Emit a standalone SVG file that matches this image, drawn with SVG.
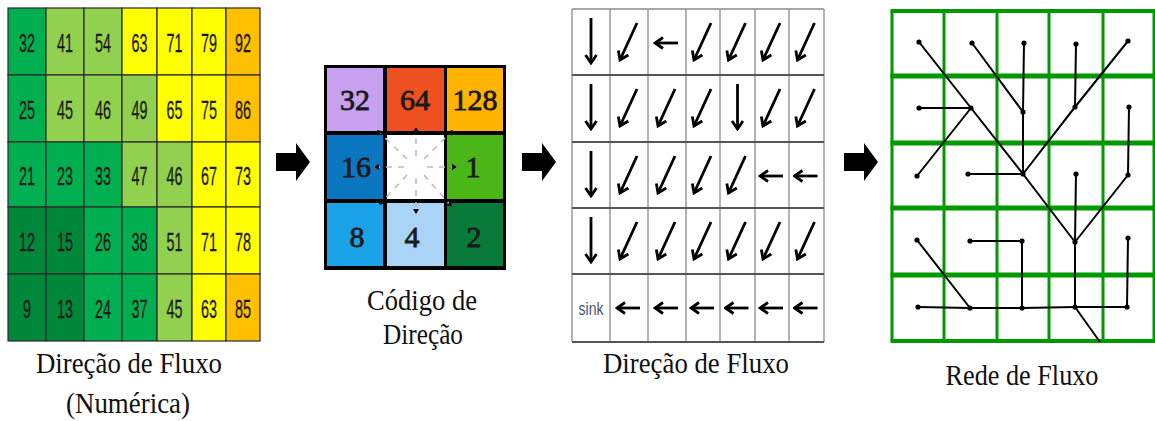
<svg xmlns="http://www.w3.org/2000/svg" width="1155" height="421" viewBox="0 0 1155 421">
<defs>
<style>
.num{font-family:'Liberation Sans',Arial,sans-serif;font-size:26px;fill:#1a1a1a;stroke:#1a1a1a;stroke-width:0.3;text-anchor:middle}
.cell{stroke:#2a2a2a;stroke-width:1.2}
.code{font-family:'Liberation Serif','Times New Roman',Times,serif;font-size:30px;fill:#1a1a1a;stroke:#1a1a1a;stroke-width:0.8;text-anchor:middle}
.dash{stroke:#bdbdbd;stroke-width:1.6;stroke-dasharray:6 6;fill:none;marker-end:url(#tiny)}
.arr{stroke:#000;stroke-width:2.8;fill:none;marker-end:url(#vhead)}
.gv{stroke:#8a8a8a;stroke-width:1.3}
.gh{stroke:#555;stroke-width:2}
.green{stroke:#009900;fill:none}
.net{stroke:#000;stroke-width:2;fill:none;stroke-linejoin:round}
.dot{fill:#000}
.lbl{font-family:'Liberation Serif','Times New Roman',Times,serif;font-size:29px;fill:#111;text-anchor:middle}
</style>
<marker id="vhead" viewBox="-11 -8 13 16" refX="0" refY="0" markerWidth="13" markerHeight="16" markerUnits="userSpaceOnUse" orient="auto">
<path d="M-8,-5.5 L0,0 L-8,5.5" fill="none" stroke="#000" stroke-width="2.8"/>
</marker>
<marker id="tiny" viewBox="-6 -4 7 8" refX="0" refY="0" markerWidth="7" markerHeight="8" markerUnits="userSpaceOnUse" orient="auto">
<path d="M0,0 L-5,-3 L-5,3 z" fill="#000"/>
</marker>
</defs>
<rect width="1155" height="421" fill="#fff"/>

<g id="numeric-grid">
<rect class="cell" x="8" y="8" width="38" height="67" fill="#00b050"/>
<rect class="cell" x="46" y="8" width="38" height="67" fill="#92d050"/>
<rect class="cell" x="84" y="8" width="38" height="67" fill="#92d050"/>
<rect class="cell" x="122" y="8" width="35" height="67" fill="#ffff00"/>
<rect class="cell" x="157" y="8" width="35" height="67" fill="#ffff00"/>
<rect class="cell" x="192" y="8" width="34" height="67" fill="#ffff00"/>
<rect class="cell" x="226" y="8" width="34" height="67" fill="#ffc000"/>
<rect class="cell" x="8" y="75" width="38" height="67" fill="#00b050"/>
<rect class="cell" x="46" y="75" width="38" height="67" fill="#92d050"/>
<rect class="cell" x="84" y="75" width="38" height="67" fill="#92d050"/>
<rect class="cell" x="122" y="75" width="35" height="67" fill="#92d050"/>
<rect class="cell" x="157" y="75" width="35" height="67" fill="#ffff00"/>
<rect class="cell" x="192" y="75" width="34" height="67" fill="#ffff00"/>
<rect class="cell" x="226" y="75" width="34" height="67" fill="#ffc000"/>
<rect class="cell" x="8" y="142" width="38" height="65" fill="#00b050"/>
<rect class="cell" x="46" y="142" width="38" height="65" fill="#00b050"/>
<rect class="cell" x="84" y="142" width="38" height="65" fill="#00b050"/>
<rect class="cell" x="122" y="142" width="35" height="65" fill="#92d050"/>
<rect class="cell" x="157" y="142" width="35" height="65" fill="#92d050"/>
<rect class="cell" x="192" y="142" width="34" height="65" fill="#ffff00"/>
<rect class="cell" x="226" y="142" width="34" height="65" fill="#ffff00"/>
<rect class="cell" x="8" y="207" width="38" height="67" fill="#00883a"/>
<rect class="cell" x="46" y="207" width="38" height="67" fill="#00883a"/>
<rect class="cell" x="84" y="207" width="38" height="67" fill="#00b050"/>
<rect class="cell" x="122" y="207" width="35" height="67" fill="#00b050"/>
<rect class="cell" x="157" y="207" width="35" height="67" fill="#92d050"/>
<rect class="cell" x="192" y="207" width="34" height="67" fill="#ffff00"/>
<rect class="cell" x="226" y="207" width="34" height="67" fill="#ffff00"/>
<rect class="cell" x="8" y="274" width="38" height="67" fill="#00883a"/>
<rect class="cell" x="46" y="274" width="38" height="67" fill="#00883a"/>
<rect class="cell" x="84" y="274" width="38" height="67" fill="#00b050"/>
<rect class="cell" x="122" y="274" width="35" height="67" fill="#00b050"/>
<rect class="cell" x="157" y="274" width="35" height="67" fill="#92d050"/>
<rect class="cell" x="192" y="274" width="34" height="67" fill="#ffff00"/>
<rect class="cell" x="226" y="274" width="34" height="67" fill="#ffc000"/>
<g class="num">
<text x="27" y="52" textLength="16" lengthAdjust="spacingAndGlyphs">32</text>
<text x="65" y="52" textLength="16" lengthAdjust="spacingAndGlyphs">41</text>
<text x="103" y="52" textLength="16" lengthAdjust="spacingAndGlyphs">54</text>
<text x="139.5" y="52" textLength="16" lengthAdjust="spacingAndGlyphs">63</text>
<text x="174.5" y="52" textLength="16" lengthAdjust="spacingAndGlyphs">71</text>
<text x="209" y="52" textLength="16" lengthAdjust="spacingAndGlyphs">79</text>
<text x="243" y="52" textLength="16" lengthAdjust="spacingAndGlyphs">92</text>
<text x="27" y="119" textLength="16" lengthAdjust="spacingAndGlyphs">25</text>
<text x="65" y="119" textLength="16" lengthAdjust="spacingAndGlyphs">45</text>
<text x="103" y="119" textLength="16" lengthAdjust="spacingAndGlyphs">46</text>
<text x="139.5" y="119" textLength="16" lengthAdjust="spacingAndGlyphs">49</text>
<text x="174.5" y="119" textLength="16" lengthAdjust="spacingAndGlyphs">65</text>
<text x="209" y="119" textLength="16" lengthAdjust="spacingAndGlyphs">75</text>
<text x="243" y="119" textLength="16" lengthAdjust="spacingAndGlyphs">86</text>
<text x="27" y="185" textLength="16" lengthAdjust="spacingAndGlyphs">21</text>
<text x="65" y="185" textLength="16" lengthAdjust="spacingAndGlyphs">23</text>
<text x="103" y="185" textLength="16" lengthAdjust="spacingAndGlyphs">33</text>
<text x="139.5" y="185" textLength="16" lengthAdjust="spacingAndGlyphs">47</text>
<text x="174.5" y="185" textLength="16" lengthAdjust="spacingAndGlyphs">46</text>
<text x="209" y="185" textLength="16" lengthAdjust="spacingAndGlyphs">67</text>
<text x="243" y="185" textLength="16" lengthAdjust="spacingAndGlyphs">73</text>
<text x="27" y="251" textLength="16" lengthAdjust="spacingAndGlyphs">12</text>
<text x="65" y="251" textLength="16" lengthAdjust="spacingAndGlyphs">15</text>
<text x="103" y="251" textLength="16" lengthAdjust="spacingAndGlyphs">26</text>
<text x="139.5" y="251" textLength="16" lengthAdjust="spacingAndGlyphs">38</text>
<text x="174.5" y="251" textLength="16" lengthAdjust="spacingAndGlyphs">51</text>
<text x="209" y="251" textLength="16" lengthAdjust="spacingAndGlyphs">71</text>
<text x="243" y="251" textLength="16" lengthAdjust="spacingAndGlyphs">78</text>
<text x="27" y="318" textLength="8" lengthAdjust="spacingAndGlyphs">9</text>
<text x="65" y="318" textLength="16" lengthAdjust="spacingAndGlyphs">13</text>
<text x="103" y="318" textLength="16" lengthAdjust="spacingAndGlyphs">24</text>
<text x="139.5" y="318" textLength="16" lengthAdjust="spacingAndGlyphs">37</text>
<text x="174.5" y="318" textLength="16" lengthAdjust="spacingAndGlyphs">45</text>
<text x="209" y="318" textLength="16" lengthAdjust="spacingAndGlyphs">63</text>
<text x="243" y="318" textLength="16" lengthAdjust="spacingAndGlyphs">85</text>
</g>
<text class="lbl" x="129" y="373" textLength="186" lengthAdjust="spacingAndGlyphs">Direção de Fluxo</text>
<text class="lbl" x="128" y="413" textLength="124" lengthAdjust="spacingAndGlyphs">(Numérica)</text>
</g>

<g id="direction-code">
<rect x="324" y="65" width="182" height="205" fill="#000"/>
<rect x="327" y="68" width="56" height="63" fill="#c8a0f0"/>
<rect x="387" y="68" width="57" height="63" fill="#ef5020"/>
<rect x="447" y="68" width="56" height="63" fill="#ffb300"/>
<rect x="327" y="135" width="56" height="64" fill="#0b77c0"/>
<rect x="387" y="135" width="57" height="64" fill="#ffffff"/>
<rect x="447" y="135" width="56" height="64" fill="#4ab618"/>
<rect x="327" y="203" width="56" height="63" fill="#1aa3e8"/>
<rect x="387" y="203" width="57" height="63" fill="#aad4f6"/>
<rect x="447" y="203" width="56" height="63" fill="#087a3a"/>
<g class="code">
<text x="355" y="110">32</text>
<text x="415" y="110">64</text>
<text x="475" y="110" textLength="45" lengthAdjust="spacingAndGlyphs">128</text>
<text x="356" y="177">16</text>
<text x="473" y="177">1</text>
<text x="357" y="247">8</text>
<text x="412" y="247">4</text>
<text x="474" y="247">2</text>
</g>
<line class="dash" x1="404" y1="167" x2="374" y2="167"/>
<line class="dash" x1="427" y1="167" x2="457" y2="167"/>
<line class="dash" x1="416" y1="156" x2="416" y2="127"/>
<line class="dash" x1="416" y1="178" x2="416" y2="214"/>
<line class="dash" x1="407" y1="159" x2="377" y2="130"/>
<line class="dash" x1="424" y1="159" x2="453" y2="130"/>
<line class="dash" x1="407" y1="175" x2="379" y2="205"/>
<line class="dash" x1="424" y1="175" x2="452" y2="207"/>
<text class="lbl" x="422" y="310" font-size="30" textLength="110" lengthAdjust="spacingAndGlyphs">Código de</text>
<text class="lbl" x="423" y="344" font-size="30" textLength="80" lengthAdjust="spacingAndGlyphs">Direção</text>
</g>

<g id="flow-direction">
<rect x="572" y="9" width="252" height="333" fill="#fff"/>
<g class="gv">
<line x1="572" y1="9" x2="572" y2="342"/>
<line x1="610" y1="9" x2="610" y2="342"/>
<line x1="648" y1="9" x2="648" y2="342"/>
<line x1="686" y1="9" x2="686" y2="342"/>
<line x1="720" y1="9" x2="720" y2="342"/>
<line x1="755" y1="9" x2="755" y2="342"/>
<line x1="789" y1="9" x2="789" y2="342"/>
<line x1="824" y1="9" x2="824" y2="342"/>
</g>
<g class="gh">
<line x1="572" y1="9" x2="824" y2="9" stroke="#8a8a8a" stroke-width="1.3"/>
<line x1="572" y1="75" x2="824" y2="75"/>
<line x1="572" y1="142" x2="824" y2="142"/>
<line x1="572" y1="208" x2="824" y2="208"/>
<line x1="572" y1="274" x2="824" y2="274"/>
<line x1="572" y1="342" x2="824" y2="342"/>
</g>
<g class="arr">
<line x1="591" y1="18" x2="591" y2="63"/>
<line x1="637" y1="23" x2="620" y2="60"/>
<line x1="678" y1="43" x2="655" y2="43"/>
<line x1="711" y1="23" x2="694" y2="60"/>
<line x1="745.5" y1="23" x2="728.5" y2="60"/>
<line x1="780" y1="23" x2="763" y2="60"/>
<line x1="814.5" y1="23" x2="797.5" y2="60"/>
<line x1="591" y1="84" x2="591" y2="129"/>
<line x1="637" y1="89" x2="620" y2="126"/>
<line x1="675" y1="89" x2="658" y2="126"/>
<line x1="711" y1="89" x2="694" y2="126"/>
<line x1="737.5" y1="84" x2="737.5" y2="129"/>
<line x1="780" y1="89" x2="763" y2="126"/>
<line x1="814.5" y1="89" x2="797.5" y2="126"/>
<line x1="591" y1="151" x2="591" y2="196"/>
<line x1="637" y1="156" x2="620" y2="193"/>
<line x1="675" y1="156" x2="658" y2="193"/>
<line x1="711" y1="156" x2="694" y2="193"/>
<line x1="745.5" y1="156" x2="728.5" y2="193"/>
<line x1="783" y1="176" x2="760" y2="176"/>
<line x1="817.5" y1="176" x2="794.5" y2="176"/>
<line x1="591" y1="217" x2="591" y2="262"/>
<line x1="637" y1="222" x2="620" y2="259"/>
<line x1="675" y1="222" x2="658" y2="259"/>
<line x1="711" y1="222" x2="694" y2="259"/>
<line x1="745.5" y1="222" x2="728.5" y2="259"/>
<line x1="780" y1="222" x2="763" y2="259"/>
<line x1="814.5" y1="222" x2="797.5" y2="259"/>
<line x1="640" y1="308" x2="617" y2="308"/>
<line x1="678" y1="308" x2="655" y2="308"/>
<line x1="714" y1="308" x2="691" y2="308"/>
<line x1="748.5" y1="308" x2="725.5" y2="308"/>
<line x1="783" y1="308" x2="760" y2="308"/>
<line x1="817.5" y1="308" x2="794.5" y2="308"/>
</g>
<text x="591" y="315" font-family="'Liberation Sans', Arial, sans-serif" font-size="19" fill="#4a5470" text-anchor="middle" textLength="25" lengthAdjust="spacingAndGlyphs">sink</text>
<text class="lbl" x="696" y="373" textLength="186" lengthAdjust="spacingAndGlyphs">Direção de Fluxo</text>
</g>

<g id="flow-network">
<g class="green">
<line x1="892" y1="11" x2="892" y2="341" stroke-width="3"/>
<line x1="944" y1="11" x2="944" y2="341" stroke-width="3"/>
<line x1="997" y1="11" x2="997" y2="341" stroke-width="3"/>
<line x1="1049" y1="11" x2="1049" y2="341" stroke-width="3"/>
<line x1="1103" y1="11" x2="1103" y2="341" stroke-width="3"/>
<line x1="1154" y1="11" x2="1154" y2="341" stroke-width="3"/>
<line x1="890.5" y1="11" x2="1155" y2="11" stroke-width="4"/>
<line x1="890.5" y1="76" x2="1155" y2="76" stroke-width="5"/>
<line x1="890.5" y1="143" x2="1155" y2="143" stroke-width="5"/>
<line x1="890.5" y1="208" x2="1155" y2="208" stroke-width="5"/>
<line x1="890.5" y1="275" x2="1155" y2="275" stroke-width="5"/>
<line x1="890.5" y1="341" x2="1155" y2="341" stroke-width="4"/>
</g>
<g class="net">
<polyline points="919,42 971,108 1023,174"/>
<polyline points="972,43 1023,112"/>
<polyline points="1024,43 1023,112 1023,174"/>
<polyline points="1076,44 1075,107"/>
<polyline points="1128,41 1075,107 1023,174"/>
<polyline points="919,108 971,108"/>
<polyline points="971,108 917,176"/>
<polyline points="1129,107 1128,175"/>
<polyline points="968,174 1023,174"/>
<polyline points="1076,174 1075,242"/>
<polyline points="1023,174 1075,242"/>
<polyline points="1128,175 1075,242"/>
<polyline points="917,240 970,308"/>
<polyline points="970,241 1022,241 1022,308"/>
<polyline points="1128,238 1127,307"/>
<polyline points="1075,242 1075,307"/>
<polyline points="918,307 970,308 1022,308 1075,307 1127,307"/>
<polyline points="1075,307 1100,342"/>
</g>
<g class="dot">
<circle cx="919" cy="42" r="2.6"/><circle cx="972" cy="43" r="2.6"/><circle cx="1024" cy="43" r="2.6"/><circle cx="1076" cy="44" r="2.6"/><circle cx="1128" cy="41" r="2.6"/>
<circle cx="919" cy="108" r="2.6"/><circle cx="971" cy="108" r="2.6"/><circle cx="1023" cy="112" r="2.6"/><circle cx="1075" cy="107" r="2.6"/><circle cx="1129" cy="107" r="2.6"/>
<circle cx="917" cy="176" r="2.6"/><circle cx="968" cy="174" r="2.6"/><circle cx="1023" cy="174" r="2.6"/><circle cx="1076" cy="174" r="2.6"/><circle cx="1128" cy="175" r="2.6"/>
<circle cx="917" cy="240" r="2.6"/><circle cx="970" cy="241" r="2.6"/><circle cx="1022" cy="241" r="2.6"/><circle cx="1075" cy="242" r="2.6"/><circle cx="1128" cy="238" r="2.6"/>
<circle cx="918" cy="307" r="2.6"/><circle cx="970" cy="308" r="2.6"/><circle cx="1022" cy="308" r="2.6"/><circle cx="1075" cy="307" r="2.6"/><circle cx="1127" cy="307" r="2.6"/>
</g>
<text class="lbl" x="1022" y="385" textLength="153" lengthAdjust="spacingAndGlyphs">Rede de Fluxo</text>
</g>

<g id="connectors" fill="#000">
<polygon points="276,153 296,153 296,143 310,162 296,181 296,171 276,171"/>
<polygon points="522,153 542,153 542,143 556,162 542,181 542,171 522,171"/>
<polygon points="844,153 864,153 864,143 878,162 864,181 864,171 844,171"/>
</g>
</svg>
